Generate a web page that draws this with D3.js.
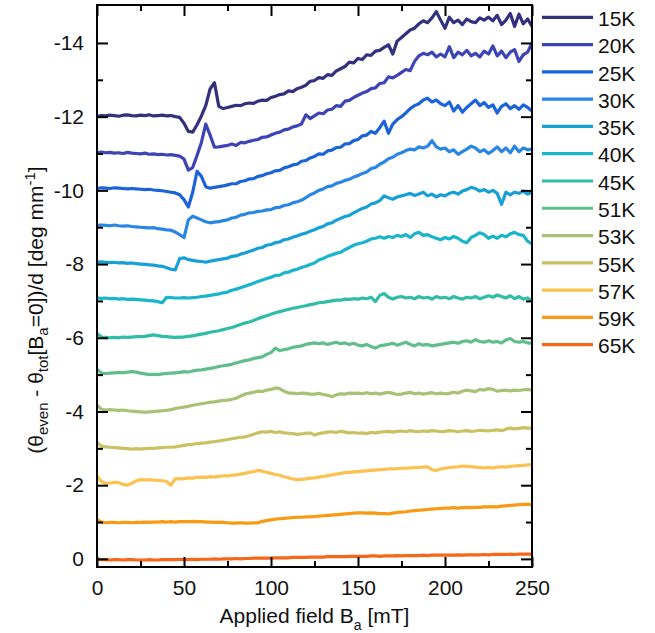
<!DOCTYPE html>
<html>
<head>
<meta charset="utf-8">
<script src="https://cdn.jsdelivr.net/npm/d3@7"></script>
<style>
	body { margin: 0; background: #fff; }
	text { font-family: "Liberation Sans", Arial, sans-serif; }
</style>
</head>
<body>
<div id="chart"></div>
<script>
// applied field (mT), common sampling for every temperature
const field = [
	0, 2.5, 5, 7.5, 10, 12.5, 15, 17.5, 20, 22.5,
	25, 27.5, 30, 32.5, 35, 37.5, 40, 42.5, 45, 47.5,
	50, 52.5, 55, 57.5, 60, 62.5, 65, 67.5, 70, 72.5,
	75, 77.5, 80, 82.5, 85, 87.5, 90, 92.5, 95, 97.5,
	100, 102.5, 105, 107.5, 110, 112.5, 115, 117.5, 120, 122.5,
	125, 127.5, 130, 132.5, 135, 137.5, 140, 142.5, 145, 147.5,
	150, 152.5, 155, 157.5, 160, 162.5, 165, 167.5, 170, 172.5,
	175, 177.5, 180, 182.5, 185, 187.5, 190, 192.5, 195, 197.5,
	200, 202.5, 205, 207.5, 210, 212.5, 215, 217.5, 220, 222.5,
	225, 227.5, 230, 232.5, 235, 237.5, 240, 242.5, 245, 247.5,
	250,
];

const t15 = [
	-12.00, -12.03, -12.02, -12.04, -12.03, -12.01, -12.04, -12.05, -12.03, -12.02,
	-12.04, -12.03, -12.05, -12.02, -12.03, -12.04, -12.02, -12.03, -12.00, -11.98,
	-11.82, -11.60, -11.58, -11.78, -12.02, -12.30, -12.75, -12.92, -12.28, -12.22,
	-12.25, -12.28, -12.31, -12.30, -12.35, -12.37, -12.36, -12.42, -12.45, -12.44,
	-12.52, -12.55, -12.60, -12.62, -12.70, -12.68, -12.76, -12.80, -12.85, -12.96,
	-12.98, -13.06, -13.04, -13.14, -13.12, -13.24, -13.30, -13.36, -13.48, -13.46,
	-13.58, -13.55, -13.68, -13.66, -13.78, -13.80, -13.88, -13.95, -13.70, -14.05,
	-14.15, -14.25, -14.35, -14.40, -14.52, -14.60, -14.55, -14.68, -14.85, -14.62,
	-14.40, -14.70, -14.55, -14.62, -14.50, -14.65, -14.58, -14.55, -14.68, -14.62,
	-14.70, -14.60, -14.75, -14.50, -14.62, -14.80, -14.45, -14.78, -14.52, -14.65,
	-14.45,
];
const t20 = [
	-11.02, -11.04, -11.02, -11.03, -11.01, -11.02, -11.00, -11.03, -11.01, -11.00,
	-10.99, -11.01, -10.98, -10.99, -10.97, -10.98, -10.96, -10.97, -10.95, -10.93,
	-10.85, -10.55, -10.62, -10.95, -11.30, -11.80, -11.50, -11.17, -11.18, -11.20,
	-11.22, -11.26, -11.22, -11.30, -11.29, -11.33, -11.36, -11.38, -11.44, -11.45,
	-11.50, -11.55, -11.58, -11.64, -11.66, -11.72, -11.75, -11.80, -12.05, -11.95,
	-12.02, -12.10, -12.08, -12.18, -12.20, -12.30, -12.28, -12.42, -12.44, -12.52,
	-12.58, -12.64, -12.68, -12.76, -12.78, -12.90, -12.92, -13.08, -13.05, -13.12,
	-13.20, -13.28, -13.25, -13.50, -13.65, -13.72, -13.68, -13.75, -13.62, -13.70,
	-13.62, -13.90, -13.60, -13.75, -13.68, -13.80, -13.65, -13.72, -13.62, -13.78,
	-13.70, -13.92, -13.65, -13.78, -13.60, -13.75, -13.82, -13.50, -13.68, -13.75,
	-14.00,
];
const t25 = [
	-10.05, -10.07, -10.06, -10.05, -10.07, -10.06, -10.05, -10.04, -10.05, -10.04,
	-10.03, -10.02, -10.03, -10.01, -10.00, -9.99, -9.97, -9.95, -9.93, -9.88,
	-9.75, -9.55, -9.95, -10.52, -10.38, -10.10, -10.06, -10.08, -10.10, -10.12,
	-10.15, -10.18, -10.18, -10.24, -10.26, -10.31, -10.32, -10.38, -10.40, -10.45,
	-10.48, -10.53, -10.54, -10.61, -10.64, -10.69, -10.71, -10.79, -10.81, -10.88,
	-10.92, -10.99, -10.98, -11.07, -11.09, -11.16, -11.17, -11.26, -11.27, -11.35,
	-11.38, -11.48, -11.50, -11.60, -11.55, -11.70, -11.88, -11.55, -11.80, -11.92,
	-12.00, -12.10, -12.22, -12.30, -12.35, -12.45, -12.50, -12.40, -12.45, -12.35,
	-12.30, -12.40, -12.15, -12.30, -12.12, -12.25, -12.35, -12.45, -12.30, -12.38,
	-12.25, -12.32, -12.10, -12.28, -12.35, -12.22, -12.30, -12.20, -12.32, -12.25,
	-12.15,
];
const t30 = [
	-9.05, -9.06, -9.05, -9.04, -9.06, -9.04, -9.03, -9.04, -9.02, -9.01,
	-9.00, -8.99, -8.98, -8.99, -8.96, -8.95, -8.93, -8.92, -8.87, -8.80,
	-8.72, -9.20, -9.30, -9.25, -9.20, -9.15, -9.12, -9.14, -9.15, -9.18,
	-9.20, -9.25, -9.27, -9.33, -9.35, -9.39, -9.40, -9.43, -9.44, -9.47,
	-9.48, -9.53, -9.54, -9.59, -9.61, -9.66, -9.69, -9.73, -9.80, -9.88,
	-9.93, -10.00, -10.04, -10.10, -10.12, -10.19, -10.22, -10.27, -10.30, -10.36,
	-10.40, -10.46, -10.50, -10.59, -10.62, -10.71, -10.77, -10.86, -10.90, -10.98,
	-11.02, -11.08, -11.12, -11.10, -11.18, -11.15, -11.20, -11.35, -11.18, -11.12,
	-11.15, -11.05, -11.10, -10.98, -11.05, -11.12, -11.20, -11.15, -11.05, -11.10,
	-11.00, -11.08, -11.18, -11.05, -11.15, -11.02, -11.20, -11.05, -11.15, -11.10,
	-11.12,
];
const t35 = [
	-8.05, -8.06, -8.05, -8.04, -8.05, -8.03, -8.04, -8.02, -8.03, -8.01,
	-8.00, -7.99, -7.98, -7.97, -7.95, -7.94, -7.90, -7.86, -7.84, -8.15,
	-8.17, -8.12, -8.10, -8.08, -8.07, -8.05, -8.08, -8.10, -8.12, -8.14,
	-8.16, -8.21, -8.22, -8.27, -8.30, -8.34, -8.38, -8.43, -8.45, -8.51,
	-8.53, -8.58, -8.60, -8.66, -8.68, -8.73, -8.76, -8.81, -8.84, -8.89,
	-8.93, -8.99, -9.02, -9.09, -9.12, -9.19, -9.24, -9.29, -9.32, -9.39,
	-9.45, -9.51, -9.55, -9.63, -9.66, -9.72, -9.85, -9.80, -9.76, -9.82,
	-9.85, -9.88, -9.92, -9.86, -9.90, -9.95, -9.85, -9.90, -9.82, -9.88,
	-9.85, -9.92, -9.95, -9.90, -9.98, -10.02, -10.08, -10.05, -9.98, -10.02,
	-9.95, -10.00, -9.92, -9.62, -9.95, -9.88, -9.95, -9.92, -9.98, -9.90,
	-9.95,
];
const t40 = [
	-7.08, -7.07, -7.08, -7.06, -7.07, -7.05, -7.06, -7.04, -7.05, -7.04,
	-7.03, -7.02, -7.01, -7.00, -6.98, -6.95, -7.10, -7.09, -7.08, -7.08,
	-7.09, -7.08, -7.09, -7.10, -7.12, -7.13, -7.15, -7.17, -7.19, -7.22,
	-7.24, -7.29, -7.32, -7.36, -7.40, -7.44, -7.48, -7.53, -7.57, -7.61,
	-7.64, -7.69, -7.70, -7.76, -7.78, -7.83, -7.86, -7.91, -7.94, -7.99,
	-8.03, -8.11, -8.15, -8.21, -8.25, -8.29, -8.32, -8.39, -8.45, -8.51,
	-8.55, -8.58, -8.62, -8.68, -8.70, -8.74, -8.70, -8.75, -8.72, -8.78,
	-8.75, -8.80, -8.72, -8.82, -8.86, -8.78, -8.80, -8.74, -8.70, -8.66,
	-8.72, -8.68, -8.75, -8.70, -8.62, -8.58, -8.72, -8.78, -8.85, -8.80,
	-8.70, -8.76, -8.70, -8.78, -8.74, -8.82, -8.86, -8.80, -8.78, -8.62,
	-8.55,
];
const t45 = [
	-6.12, -6.02, -6.01, -6.00, -6.01, -6.00, -6.02, -6.01, -6.02, -6.03,
	-6.03, -6.04, -6.06, -6.08, -6.06, -6.04, -6.03, -6.02, -6.01, -6.02,
	-6.02, -6.04, -6.05, -6.08, -6.10, -6.12, -6.15, -6.17, -6.19, -6.22,
	-6.25, -6.28, -6.32, -6.36, -6.40, -6.43, -6.47, -6.52, -6.56, -6.60,
	-6.64, -6.68, -6.71, -6.74, -6.77, -6.80, -6.82, -6.85, -6.87, -6.90,
	-6.92, -6.95, -6.96, -6.98, -7.00, -7.02, -7.02, -7.05, -7.04, -7.06,
	-7.05, -7.08, -7.06, -7.10, -6.98, -7.15, -7.20, -7.10, -7.05, -7.10,
	-7.12, -7.08, -7.10, -7.06, -7.12, -7.08, -7.10, -7.05, -7.12, -7.08,
	-7.10, -7.06, -7.12, -7.08, -7.05, -7.10, -7.08, -7.12, -7.06, -7.10,
	-7.14, -7.10, -7.16, -7.12, -7.08, -7.14, -7.06, -7.12, -7.05, -7.08,
	-7.00,
];
const t51 = [
	-5.15, -5.04, -5.03, -5.04, -5.05, -5.06, -5.05, -5.07, -5.08, -5.07,
	-5.04, -5.02, -5.00, -5.01, -5.00, -5.02, -5.03, -5.04, -5.05, -5.06,
	-5.08, -5.07, -5.10, -5.12, -5.13, -5.15, -5.17, -5.19, -5.22, -5.24,
	-5.26, -5.28, -5.32, -5.35, -5.38, -5.40, -5.44, -5.46, -5.48, -5.55,
	-5.60, -5.72, -5.65, -5.68, -5.70, -5.74, -5.76, -5.78, -5.82, -5.84,
	-5.86, -5.84, -5.86, -5.82, -5.85, -5.88, -5.84, -5.86, -5.82, -5.85,
	-5.80, -5.78, -5.82, -5.76, -5.72, -5.78, -5.80, -5.82, -5.85, -5.80,
	-5.84, -5.88, -5.82, -5.78, -5.84, -5.80, -5.82, -5.78, -5.80, -5.82,
	-5.84, -5.86, -5.88, -5.85, -5.90, -5.92, -5.88, -5.95, -5.90, -5.88,
	-5.92, -5.88, -5.90, -5.86, -5.94, -5.98, -5.90, -5.88, -5.90, -5.86,
	-5.85,
];
const t53 = [
	-4.18, -4.06, -4.04, -4.05, -4.04, -4.03, -4.04, -4.02, -4.01, -4.00,
	-3.99, -3.98, -3.99, -4.00, -4.01, -4.02, -4.03, -4.05, -4.08, -4.10,
	-4.12, -4.14, -4.17, -4.19, -4.21, -4.23, -4.25, -4.26, -4.28, -4.30,
	-4.31, -4.33, -4.36, -4.42, -4.47, -4.50, -4.52, -4.55, -4.54, -4.58,
	-4.60, -4.64, -4.62, -4.55, -4.50, -4.50, -4.48, -4.50, -4.49, -4.47,
	-4.47, -4.49, -4.46, -4.44, -4.40, -4.45, -4.48, -4.47, -4.50, -4.49,
	-4.50, -4.48, -4.51, -4.48, -4.50, -4.47, -4.50, -4.52, -4.49, -4.46,
	-4.47, -4.50, -4.52, -4.48, -4.50, -4.47, -4.49, -4.51, -4.48, -4.50,
	-4.48, -4.49, -4.52, -4.50, -4.55, -4.58, -4.56, -4.54, -4.60, -4.58,
	-4.62, -4.60, -4.55, -4.57, -4.58, -4.56, -4.58, -4.57, -4.59, -4.60,
	-4.58,
];
const t55 = [
	-3.17, -3.06, -3.04, -3.03, -3.02, -3.01, -3.00, -2.99, -2.98, -2.99,
	-2.98, -2.99, -3.00, -3.00, -3.01, -3.02, -3.03, -3.03, -3.04, -3.06,
	-3.08, -3.10, -3.11, -3.13, -3.14, -3.15, -3.17, -3.18, -3.20, -3.22,
	-3.24, -3.26, -3.28, -3.30, -3.31, -3.34, -3.38, -3.42, -3.45, -3.44,
	-3.46, -3.43, -3.45, -3.42, -3.41, -3.40, -3.38, -3.39, -3.41, -3.42,
	-3.36, -3.40, -3.42, -3.44, -3.45, -3.43, -3.46, -3.44, -3.42, -3.43,
	-3.41, -3.42, -3.40, -3.43, -3.42, -3.44, -3.45, -3.46, -3.44, -3.46,
	-3.47, -3.45, -3.48, -3.46, -3.45, -3.47, -3.46, -3.48, -3.47, -3.45,
	-3.46, -3.48, -3.47, -3.45, -3.47, -3.48, -3.46, -3.47, -3.49, -3.48,
	-3.47, -3.49, -3.50, -3.48, -3.52, -3.55, -3.53, -3.54, -3.56, -3.55,
	-3.55,
];
const t57 = [
	-2.25, -2.10, -2.05, -2.06, -2.08, -2.07, -2.02, -2.00, -2.05, -2.12,
	-2.15, -2.14, -2.15, -2.14, -2.13, -2.12, -2.10, -2.00, -2.18, -2.17,
	-2.18, -2.20, -2.19, -2.21, -2.22, -2.21, -2.23, -2.22, -2.24, -2.25,
	-2.25, -2.27, -2.28, -2.30, -2.32, -2.35, -2.37, -2.40, -2.38, -2.35,
	-2.32, -2.29, -2.27, -2.23, -2.20, -2.17, -2.15, -2.16, -2.17, -2.19,
	-2.20, -2.22, -2.24, -2.26, -2.28, -2.30, -2.32, -2.34, -2.35, -2.36,
	-2.37, -2.38, -2.39, -2.40, -2.41, -2.42, -2.43, -2.44, -2.44, -2.45,
	-2.46, -2.46, -2.47, -2.48, -2.48, -2.49, -2.50, -2.42, -2.40, -2.44,
	-2.46, -2.48, -2.49, -2.50, -2.52, -2.51, -2.50, -2.49, -2.48, -2.47,
	-2.48, -2.47, -2.49, -2.50, -2.49, -2.51, -2.52, -2.53, -2.54, -2.55,
	-2.56,
];
const t59 = [
	-1.07, -1.00, -0.98, -0.99, -0.99, -0.98, -0.99, -0.99, -0.98, -0.99,
	-0.99, -1.00, -0.99, -1.00, -1.00, -1.01, -1.00, -1.01, -1.00, -1.01,
	-1.01, -1.01, -1.02, -1.01, -1.01, -1.00, -1.00, -0.99, -0.99, -0.99,
	-0.98, -0.97, -0.97, -0.98, -0.97, -0.97, -0.98, -0.98, -1.02, -1.04,
	-1.06, -1.08, -1.09, -1.10, -1.11, -1.12, -1.13, -1.13, -1.14, -1.14,
	-1.15, -1.16, -1.17, -1.18, -1.19, -1.20, -1.21, -1.22, -1.23, -1.24,
	-1.25, -1.25, -1.24, -1.25, -1.24, -1.23, -1.23, -1.22, -1.24, -1.26,
	-1.27, -1.28, -1.30, -1.31, -1.32, -1.33, -1.34, -1.35, -1.36, -1.37,
	-1.38, -1.38, -1.39, -1.38, -1.39, -1.40, -1.39, -1.40, -1.40, -1.41,
	-1.41, -1.42, -1.41, -1.43, -1.44, -1.45, -1.46, -1.47, -1.48, -1.48,
	-1.47,
];
const t65 = [
	0.01, 0.02, 0.02, 0.03, 0.02, 0.02, 0.03, 0.02, 0.02, 0.03,
	0.03, 0.03, 0.02, 0.03, 0.03, 0.02, 0.02, 0.02, 0.02, 0.01,
	0.02, 0.02, 0.01, 0.02, 0.01, 0.01, 0.01, 0.00, 0.01, 0.00,
	0.00, 0.00, -0.01, 0.00, -0.01, -0.01, -0.02, -0.02, -0.02, -0.02,
	-0.02, -0.03, -0.03, -0.03, -0.03, -0.04, -0.04, -0.04, -0.04, -0.05,
	-0.05, -0.05, -0.05, -0.06, -0.06, -0.06, -0.06, -0.06, -0.07, -0.07,
	-0.07, -0.07, -0.07, -0.08, -0.08, -0.07, -0.08, -0.08, -0.08, -0.09,
	-0.08, -0.09, -0.09, -0.09, -0.09, -0.10, -0.09, -0.10, -0.10, -0.10,
	-0.10, -0.10, -0.10, -0.11, -0.10, -0.11, -0.11, -0.11, -0.11, -0.12,
	-0.11, -0.12, -0.12, -0.12, -0.12, -0.13, -0.12, -0.13, -0.13, -0.13,
	-0.13,
];

const temps = ["15K", "20K", "25K", "30K", "35K", "40K", "45K", "51K", "53K", "55K", "57K", "59K", "65K"];
const curves = [t15, t20, t25, t30, t35, t40, t45, t51, t53, t55, t57, t59, t65];
const colors = [
	"#33307f", "#3d44b5", "#1b63d9", "#2a86e5", "#17a0d5", "#1ab4cd", "#30bca6",
	"#5fbe8c", "#a8c175", "#c9c263", "#fcc14f", "#fa9a14", "#f8661a",
];

const yTicks = [0, -2, -4, -6, -8, -10, -12, -14];
const yMinorTicks = [-1, -3, -5, -7, -9, -11, -13];
const xTicks = [0, 50, 100, 150, 200, 250];
const xMinorTicks = [25, 75, 125, 175, 225];

const w = 655;
const h = 633;
const plotLeft = 97;
const plotRight = 532;
const plotTop = 5;
const plotBottom = 567;
const fontSize = 21;

const svg = d3
	.select("#chart")
	.append("svg")
	.attr("width", w)
	.attr("height", h);

const xScale = d3.scaleLinear().domain([0, 250]).range([plotLeft, plotRight]);
const yScale = d3.scaleLinear().domain([0.22, -15.03]).range([plotBottom, plotTop]);

svg
	.append("clipPath")
	.attr("id", "plot-clip")
	.append("rect")
	.attr("x", plotLeft)
	.attr("y", plotTop)
	.attr("width", plotRight - plotLeft)
	.attr("height", plotBottom - plotTop);

const line = d3
	.line()
	.x((d, i) => xScale(field[i]))
	.y((d) => yScale(d));

svg
	.append("g")
	.attr("clip-path", "url(#plot-clip)")
	.selectAll("path")
	.data(curves)
	.enter()
	.append("path")
	.attr("d", line)
	.attr("fill", "none")
	.attr("stroke", (d, i) => colors[i])
	.attr("stroke-width", 3.2)
	.attr("stroke-linejoin", "round");

// ticks all point into the plot box
function styleAxis(g) {
	g.select(".domain").remove();
	g.selectAll("line").attr("stroke", "#000").attr("stroke-width", 2);
	g.selectAll("text").attr("fill", "#111");
	g.attr("font-size", fontSize).attr("font-family", "Liberation Sans, Arial, sans-serif");
}

svg
	.append("g")
	.attr("transform", "translate(0," + plotBottom + ")")
	.call(d3.axisBottom(xScale).tickValues(xTicks).tickSizeInner(-10).tickSizeOuter(0).tickPadding(13).tickFormat((d) => String(d)))
	.call(styleAxis);
svg
	.append("g")
	.attr("transform", "translate(0," + plotBottom + ")")
	.call(d3.axisBottom(xScale).tickValues(xMinorTicks).tickSizeInner(-6).tickSizeOuter(0).tickFormat(""))
	.call(styleAxis);
svg
	.append("g")
	.attr("transform", "translate(0," + plotTop + ")")
	.call(d3.axisTop(xScale).tickValues(xTicks).tickSizeInner(-11).tickSizeOuter(0).tickFormat(""))
	.call(styleAxis);
svg
	.append("g")
	.attr("transform", "translate(0," + plotTop + ")")
	.call(d3.axisTop(xScale).tickValues(xMinorTicks).tickSizeInner(-6).tickSizeOuter(0).tickFormat(""))
	.call(styleAxis);

svg
	.append("g")
	.attr("transform", "translate(" + plotLeft + ",0)")
	.call(d3.axisLeft(yScale).tickValues(yTicks).tickSizeInner(-11).tickSizeOuter(0).tickPadding(13).tickFormat((d) => String(d)))
	.call(styleAxis);
svg
	.append("g")
	.attr("transform", "translate(" + plotLeft + ",0)")
	.call(d3.axisLeft(yScale).tickValues(yMinorTicks).tickSizeInner(-6).tickSizeOuter(0).tickFormat(""))
	.call(styleAxis);
svg
	.append("g")
	.attr("transform", "translate(" + plotRight + ",0)")
	.call(d3.axisRight(yScale).tickValues(yTicks).tickSizeInner(-11).tickSizeOuter(0).tickFormat(""))
	.call(styleAxis);
svg
	.append("g")
	.attr("transform", "translate(" + plotRight + ",0)")
	.call(d3.axisRight(yScale).tickValues(yMinorTicks).tickSizeInner(-6).tickSizeOuter(0).tickFormat(""))
	.call(styleAxis);

svg
	.append("rect")
	.attr("x", plotLeft)
	.attr("y", plotTop)
	.attr("width", plotRight - plotLeft)
	.attr("height", plotBottom - plotTop)
	.attr("fill", "none")
	.attr("stroke", "#000")
	.attr("stroke-width", 2);

// x label with subscript
const xLabel = svg
	.append("text")
	.attr("x", (plotLeft + plotRight) / 2)
	.attr("y", 623)
	.attr("text-anchor", "middle")
	.attr("font-size", fontSize)
	.attr("fill", "#111");
xLabel.append("tspan").text("Applied field B");
xLabel.append("tspan").attr("font-size", 14).attr("dy", 7).text("a");
xLabel.append("tspan").attr("dy", -7).text(" [mT]");

// y label, rotated
const yLabel = svg
	.append("text")
	.attr("transform", "translate(43,310) rotate(-90)")
	.attr("text-anchor", "middle")
	.attr("font-size", fontSize)
	.attr("fill", "#111");
yLabel.append("tspan").text("(θ");
yLabel.append("tspan").attr("font-size", 15).attr("dy", 5).text("even");
yLabel.append("tspan").attr("dy", -5).text(" - θ");
yLabel.append("tspan").attr("font-size", 15).attr("dy", 5).text("tot");
yLabel.append("tspan").attr("dy", -5).text("[B");
yLabel.append("tspan").attr("font-size", 15).attr("dy", 5).text("a");
yLabel.append("tspan").attr("dy", -5).text("=0])/d [deg mm");
yLabel.append("tspan").attr("font-size", 15).attr("dy", -8).text("-1");
yLabel.append("tspan").attr("dy", 8).text("]");

// legend
const legendY = (i) => 17.3 + i * 27.28;
const legend = svg
	.selectAll(".legend")
	.data(temps)
	.enter()
	.append("g")
	.attr("class", "legend");
legend
	.append("line")
	.attr("x1", 542)
	.attr("x2", 593)
	.attr("y1", (d, i) => legendY(i))
	.attr("y2", (d, i) => legendY(i))
	.attr("stroke", (d, i) => colors[i])
	.attr("stroke-width", 3.2);
legend
	.append("text")
	.attr("x", 598)
	.attr("y", (d, i) => legendY(i) + 8.7)
	.attr("font-size", fontSize)
	.attr("fill", "#111")
	.text((d) => d);
</script>
</body>
</html>
